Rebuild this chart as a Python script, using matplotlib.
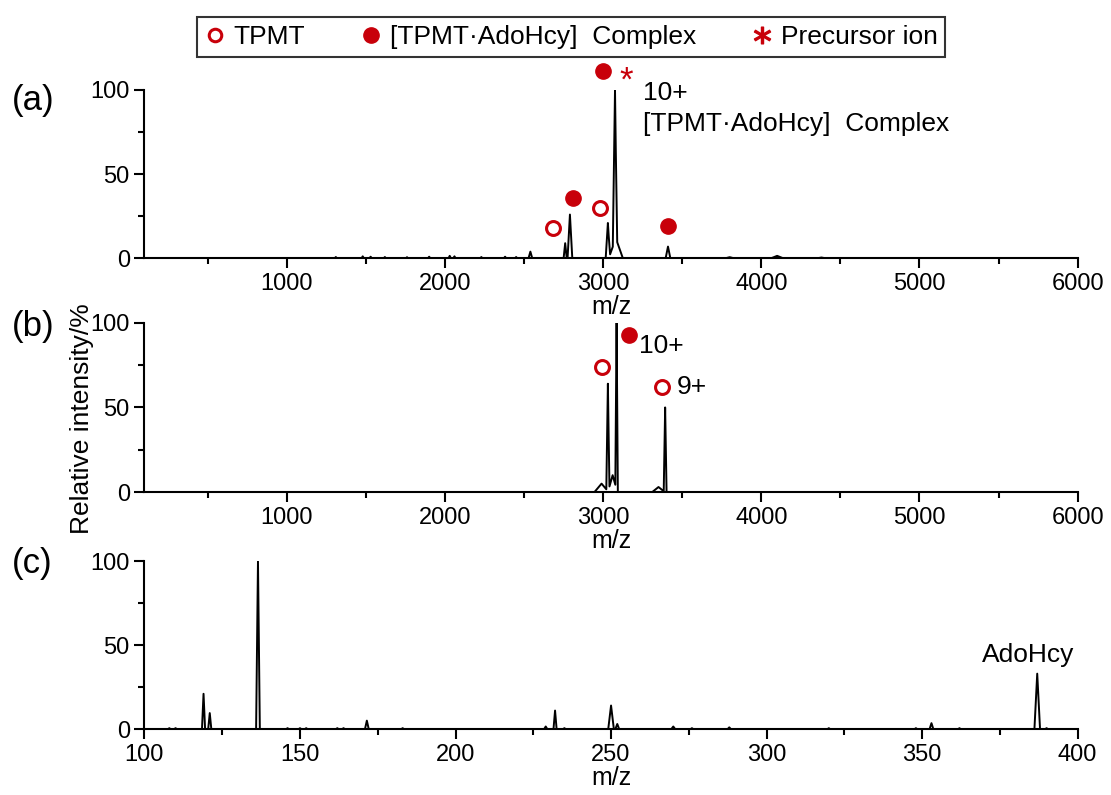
import numpy as np
import matplotlib.pyplot as plt
from matplotlib.lines import Line2D
from matplotlib.ticker import MultipleLocator

plt.rcParams['font.family'] = ['Liberation Sans', 'DejaVu Sans']

RED = '#c8000a'

# peak tables: m/z, relative intensity, half-width of the peak base
a_mz = [1310, 1480, 1530, 1620, 1760, 1900, 2030, 2060, 2230, 2380, 2450, 2540, 2760, 2790,
        3030, 3075, 3080, 3410, 3800, 4100, 4380]
a_int = [0.8, 1.2, 1.0, 0.8, 0.7, 1.0, 1.5, 1.2, 0.8, 1.0, 0.8, 4.0, 9.0, 26.0,
         21.0, 100.0, 12.0, 7.0, 0.7, 1.5, 0.5]
a_w = [8, 8, 8, 8, 8, 8, 8, 8, 8, 8, 8, 12, 10, 15,
       14, 14, 45, 15, 30, 40, 30]

b_mz = [2990, 3030, 3060, 3085, 3350, 3392]
b_int = [5.0, 64.0, 10.0, 100.0, 3.0, 50.0]
b_w = [45, 10, 30, 8, 40, 9]

c_mz = [108, 110, 119, 121, 136.5, 146, 150, 152, 162, 164, 171.5, 183, 229, 232, 235,
        250, 252, 270, 276, 288, 320, 348, 353, 362, 387, 390]
c_int = [0.5, 0.5, 21.0, 9.5, 100.0, 0.5, 0.5, 0.5, 0.5, 0.5, 5.0, 0.5, 1.5, 11.0, 0.5,
         14.0, 3.0, 1.5, 0.5, 1.0, 0.5, 0.5, 3.5, 0.5, 33.0, 0.5]
c_w = [0.4, 0.4, 0.5, 0.5, 0.6, 0.4, 0.4, 0.4, 0.4, 0.4, 0.6, 0.4, 0.5, 0.5, 0.4,
       0.9, 0.6, 0.6, 0.4, 0.5, 0.4, 0.4, 0.6, 0.4, 0.9, 0.4]


def trace(mz, inten, w, lo, hi):
    # baseline plus a triangular profile for every peak; overlapping peaks take the upper envelope
    xs = [lo, hi]
    for m, ww in zip(mz, w):
        xs += [m - ww, m, m + ww]
    xs = np.unique(xs)
    ys = np.zeros_like(xs, dtype=float)
    for m, h, ww in zip(mz, inten, w):
        ys = np.maximum(ys, np.interp(xs, [m - ww, m, m + ww], [0, h, 0]))
    return xs, ys


fig = plt.figure(figsize=(11.11, 7.95), dpi=100)
ax1 = fig.add_axes([0.130, 0.675, 0.840, 0.212])
ax2 = fig.add_axes([0.130, 0.381, 0.840, 0.213])
ax3 = fig.add_axes([0.130, 0.083, 0.840, 0.211])


def style(ax, xlim, minor, ticks):
    ax.set_xlim(*xlim)
    ax.set_ylim(0, 100)
    for s in ['top', 'right']:
        ax.spines[s].set_visible(False)
    for s in ['left', 'bottom']:
        ax.spines[s].set_linewidth(1.5)
    ax.set_xticks(ticks)
    ax.xaxis.set_minor_locator(MultipleLocator(minor))
    ax.set_yticks([0, 50, 100])
    ax.yaxis.set_minor_locator(MultipleLocator(25))
    ax.tick_params(which='major', direction='out', length=7.5, width=1.5, labelsize=17, pad=3)
    ax.tick_params(which='minor', direction='out', length=4.5, width=1.5)
    ax.set_xlabel('m/z', fontsize=18, labelpad=0)


x, y = trace(a_mz, a_int, a_w, 100, 6000)
ax1.plot(x, y, color='black', lw=1.4)
style(ax1, (100, 6000), 500, [1000, 2000, 3000, 4000, 5000, 6000])

x, y = trace(b_mz, b_int, b_w, 100, 6000)
ax2.plot(x, y, color='black', lw=1.4)
style(ax2, (100, 6000), 500, [1000, 2000, 3000, 4000, 5000, 6000])

x, y = trace(c_mz, c_int, c_w, 100, 400)
ax3.plot(x, y, color='black', lw=1.4)
style(ax3, (100, 400), 25, [100, 150, 200, 250, 300, 350, 400])

mk_open = dict(marker='o', ms=10, mfc='white', mec=RED, mew=2.2, ls='none', clip_on=False)
mk_fill = dict(marker='o', ms=11, mfc=RED, mec=RED, ls='none', clip_on=False)

# panel (a) annotations
ax1.plot([2684, 2981], [18, 30], **mk_open)
ax1.plot([2810, 3411, 3000], [36, 19, 111], **mk_fill)
ax1.text(3146, 105, '*', color=RED, fontsize=25, ha='center', va='center', clip_on=False)
ax1.text(3255, 98, '10+', fontsize=19, va='center')
ax1.text(3255, 80, '[TPMT\u00b7AdoHcy]  Complex', fontsize=19, va='center')

# panel (b) annotations
ax2.plot([2990, 3373], [74, 62], **mk_open)
ax2.plot([3165], [93], **mk_fill)
ax2.text(3225, 86, '10+', fontsize=19, va='center')
ax2.text(3468, 62, '9+', fontsize=19, va='center')

# panel (c) annotation
ax3.text(384, 44, 'AdoHcy', fontsize=19, ha='center', va='center')

fig.text(0.011, 0.873, '(a)', fontsize=25, va='center')
fig.text(0.011, 0.589, '(b)', fontsize=25, va='center')
fig.text(0.011, 0.291, '(c)', fontsize=25, va='center')
fig.text(0.074, 0.474, 'Relative intensity/%', fontsize=19, rotation=90, ha='center', va='center')

handles = [
    Line2D([], [], marker='o', ms=9, mfc='white', mec=RED, mew=2.2, ls='none'),
    Line2D([], [], marker='o', ms=11, mfc=RED, mec=RED, ls='none'),
    Line2D([], [], marker='$*$', ms=12, color=RED, ls='none'),
]
leg = fig.legend(handles, ['TPMT', '[TPMT\u00b7AdoHcy]  Complex', 'Precursor ion'],
                 loc='center', bbox_to_anchor=(0.514, 0.953), ncol=3, fontsize=19,
                 frameon=True, fancybox=False, edgecolor='black', handletextpad=0.3,
                 columnspacing=2.1, borderpad=0.3, handlelength=0.8, borderaxespad=0)
leg.get_frame().set_linewidth(1.5)

fig.savefig('out.png', dpi=100)
